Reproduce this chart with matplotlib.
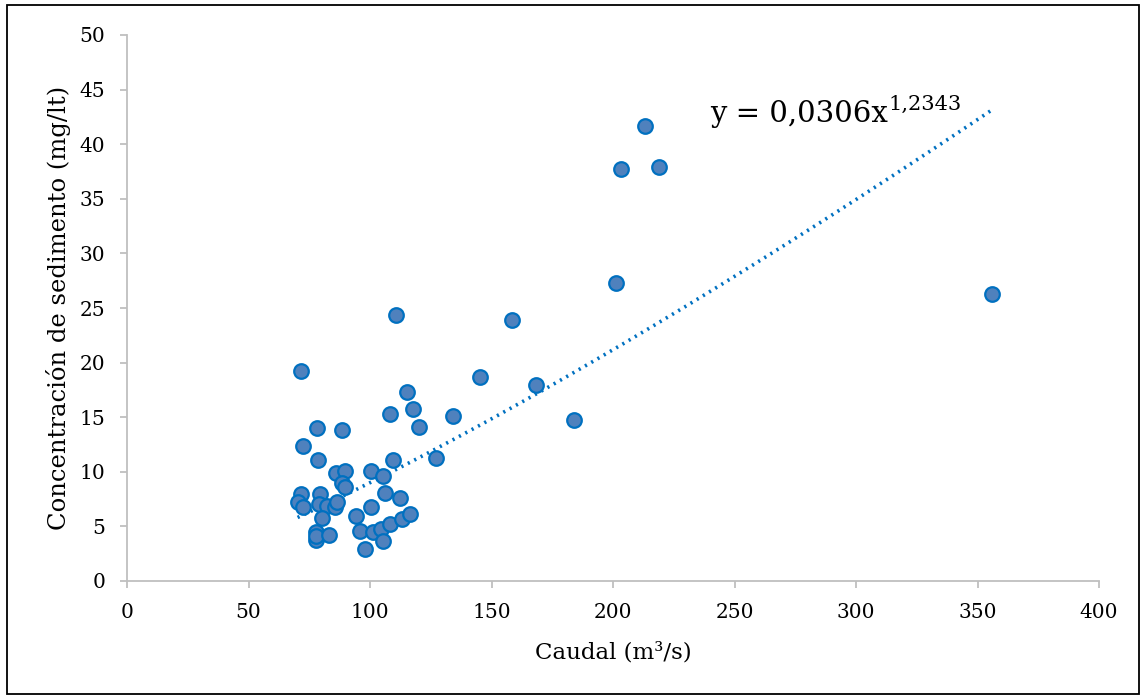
import matplotlib
matplotlib.use("Agg")
import matplotlib.pyplot as plt
import numpy as np
from matplotlib.patches import Rectangle

caudal = [71.6, 115.2, 145.1, 108.3, 117.5, 120.3, 134.3, 78.2, 88.5, 72.3,
          78.6, 109.3, 127.3, 86.0, 89.7, 100.4, 105.5, 88.3, 89.8, 106.3,
          112.5, 71.6, 79.3, 70.2, 72.3, 79.0, 82.4, 85.6, 86.3, 80.1,
          100.4, 94.1, 95.9, 97.9, 77.9, 77.9, 77.9, 83.0, 101.3, 104.5,
          105.5, 108.3, 113.2, 116.5, 110.5, 158.4, 168.3, 184.0, 201.2, 203.3,
          213.2, 218.9, 356.0]
sedimento = [19.2, 17.3, 18.7, 15.3, 15.75, 14.1, 15.1, 14.0, 13.85, 12.35,
             11.1, 11.1, 11.3, 9.85, 10.07, 10.1, 9.6, 8.95, 8.6, 8.1,
             7.57, 7.97, 7.97, 7.26, 6.8, 7.05, 6.9, 6.8, 7.26, 5.8,
             6.78, 5.95, 4.58, 2.9, 4.5, 3.75, 4.1, 4.2, 4.46, 4.73,
             3.66, 5.19, 5.65, 6.13, 24.36, 23.9, 17.95, 14.75, 27.3, 37.7,
             41.7, 37.9, 26.3]

coef_a = 0.0306
coef_b = 1.2343
eq_main = "y = 0,0306x"
eq_exp = "1,2343"

x_ticks = [0, 50, 100, 150, 200, 250, 300, 350, 400]
y_ticks = [0, 5, 10, 15, 20, 25, 30, 35, 40, 45, 50]

FONT = "DejaVu Serif"
plt.rcParams['font.family'] = [FONT]

W, H = 1141, 695
fig = plt.figure(figsize=(W / 100, H / 100), dpi=100)
ax = fig.add_axes([127 / W, 1 - 581 / H, (1099 - 127) / W, (581 - 35) / H])

xs = np.linspace(min(caudal), max(caudal), 300)
ax.plot(xs, coef_a * xs ** coef_b, linestyle=(0, (0.6, 1.4)), color="#0070C0",
        linewidth=2.6, zorder=2, dash_capstyle='butt')
ax.scatter(caudal, sedimento, s=110, facecolor="#4F81BD", edgecolor="#0070C0",
           linewidth=1.6, zorder=3)

ax.set_xlim(0, 400)
ax.set_ylim(0, 50)
ax.set_xticks(x_ticks)
ax.set_yticks(y_ticks)
for s in ["top", "right"]:
    ax.spines[s].set_visible(False)
for s in ["left", "bottom"]:
    ax.spines[s].set_color("#BFBFBF")
    ax.spines[s].set_linewidth(1.3)
ax.tick_params(axis="both", length=5, width=1.3, color="#BFBFBF",
               labelsize=14.5, labelcolor="black")
ax.tick_params(axis="x", pad=11)
ax.tick_params(axis="y", pad=10.5)
ax.set_xlabel("Caudal (m³/s)", fontsize=16.5, labelpad=14)
ax.set_ylabel("Concentración de sedimento (mg/lt)", fontsize=17.5, labelpad=6)

t = ax.text(240, 42.0, eq_main, fontsize=21, ha="left", va="baseline")
ax.annotate(eq_exp, xy=(1, 0.66), xycoords=t, fontsize=15, ha="left", va="baseline")

fig.add_artist(Rectangle((7 / W, 1 / H), (W - 9) / W, (H - 6) / H, transform=fig.transFigure,
                         fill=False, edgecolor="black", linewidth=1.3))

fig.savefig("out.png", dpi=100)
